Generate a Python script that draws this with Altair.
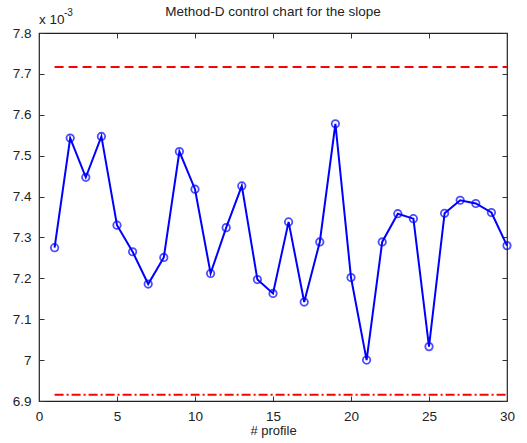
import altair as alt
import pandas as pd

profiles = list(range(1, 31))
slope = [7.275, 7.543, 7.447, 7.547, 7.330, 7.265, 7.186, 7.251, 7.510, 7.418,
         7.212, 7.324, 7.426, 7.197, 7.163, 7.338, 7.142, 7.289, 7.578, 7.202,
         7.000, 7.289, 7.358, 7.346, 7.033, 7.359, 7.391, 7.383, 7.361, 7.280]
ucl = 7.717
lcl = 6.915
x_ticks = [0, 5, 10, 15, 20, 25, 30]
y_ticks = [6.9, 7.0, 7.1, 7.2, 7.3, 7.4, 7.5, 7.6, 7.7, 7.8]
title_text = "Method-D control chart for the slope"

df = pd.DataFrame({"profile": profiles, "slope": slope})
limits = pd.DataFrame({"x1": [1], "x2": [30], "ucl": [ucl], "lcl": [lcl]})

FONT = "Liberation Sans"
xs = alt.Scale(domain=[0, 30], nice=False)
ys = alt.Scale(domain=[6.9, 7.8], nice=False, zero=False)

def xaxis(orient, labels=True, title=None):
    kw = dict(orient=orient, values=x_ticks, offset=-5, tickSize=5, domain=False,
              grid=False, tickColor="#333333", labels=labels,
              labelFont=FONT, labelFontSize=13.5, labelColor="#222222",
              labelPadding=8, labelFlush=False)
    if title:
        kw.update(title=title, titleFont=FONT, titleFontSize=13, titleFontWeight="normal",
                  titleColor="#222222", titlePadding=2)
    else:
        kw.update(title=None)
    return alt.Axis(**kw)

def yaxis(orient, labels=True):
    return alt.Axis(orient=orient, values=y_ticks, offset=-5, tickSize=5, domain=False,
                    grid=False, tickColor="#333333", labels=labels, title=None,
                    labelFont=FONT, labelFontSize=13.5, labelColor="#222222",
                    labelPadding=8, format="~g", labelFlush=False)

base = alt.Chart(df)

line = base.mark_line(color="#0000ff", strokeWidth=2).encode(
    x=alt.X("profile:Q", scale=xs, axis=xaxis("bottom", title="# profile")),
    y=alt.Y("slope:Q", scale=ys, axis=yaxis("left")),
)
pts = base.mark_point(shape="circle", filled=False, color="#0000ff", size=55, strokeWidth=1.8).encode(
    x=alt.X("profile:Q", scale=xs, axis=xaxis("top", labels=False)),
    y=alt.Y("slope:Q", scale=ys, axis=yaxis("right", labels=False)),
)
up = alt.Chart(limits).mark_rule(color="#ff0000", strokeWidth=2, strokeDash=[9, 5]).encode(
    x=alt.X("x1:Q", scale=xs, axis=None), x2="x2:Q",
    y=alt.Y("ucl:Q", scale=ys, axis=None),
)
lo = alt.Chart(limits).mark_rule(color="#ff0000", strokeWidth=2, strokeDash=[9, 3, 2, 3]).encode(
    x=alt.X("x1:Q", scale=xs, axis=None), x2="x2:Q",
    y=alt.Y("lcl:Q", scale=ys, axis=None),
)

txt_df = pd.DataFrame({"t": ["x 10"], "s": ["-3"], "title": [title_text]})
exp1 = alt.Chart(txt_df).mark_text(font=FONT, fontSize=13.5, color="#222222", align="left",
                                   baseline="alphabetic").encode(
    text="t:N", x=alt.value(0), y=alt.value(-9))
exp2 = alt.Chart(txt_df).mark_text(font=FONT, fontSize=10, color="#222222", align="left",
                                   baseline="alphabetic").encode(
    text="s:N", x=alt.value(25), y=alt.value(-17))
ttl = alt.Chart(txt_df).mark_text(font=FONT, fontSize=13.5, color="#222222", align="center",
                                  baseline="middle").encode(
    text="title:N", x=alt.value(234), y=alt.value(-21))

chart = alt.layer(line, pts, up, lo, exp1, exp2, ttl).resolve_axis(
    x="independent", y="independent"
).properties(
    width=468, height=368,
    autosize=alt.AutoSizeParams(type="none"),
    padding={"left": 39, "top": 33, "right": 20, "bottom": 42},
).configure_view(stroke="#222222", strokeWidth=1.2)

chart.save("out.html", embed_options={"renderer": "svg", "actions": False})
